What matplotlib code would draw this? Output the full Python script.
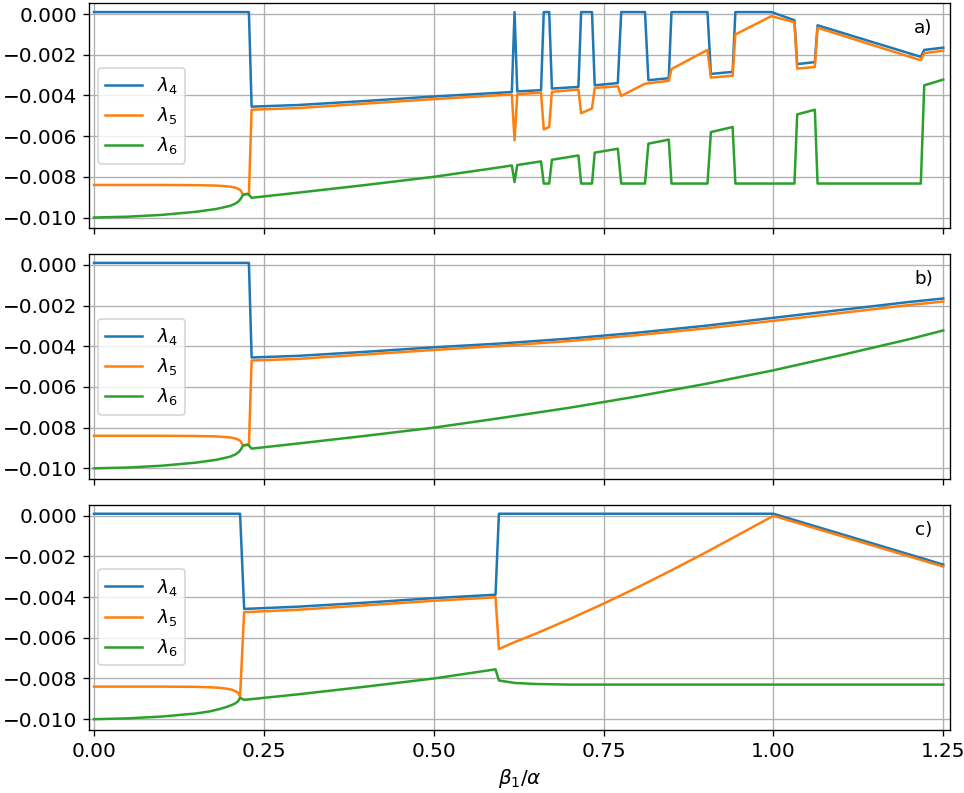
import numpy as np
import matplotlib
matplotlib.use('Agg')
import matplotlib.pyplot as plt

"""
Eigenvalues lambda_4..lambda_6 as a function of beta_1/alpha, three cases a), b), c).
Values read off the original figure.
"""

# ---- panel a) ----
x_a = [0.0, 0.05, 0.10, 0.15, 0.18, 0.20, 0.208, 0.213, 0.216, 0.219, 0.222, 0.226, 0.228, 0.232,
       0.30, 0.40, 0.50, 0.60, 0.615, 0.619, 0.623, 0.658, 0.662, 0.670, 0.674, 0.713, 0.717,
       0.733, 0.737, 0.771, 0.776, 0.811, 0.816, 0.846, 0.850, 0.903, 0.908, 0.940, 0.944,
       0.997, 1.031, 1.035, 1.061, 1.065, 1.217, 1.222, 1.25]
l4_a = [0.0001, 0.0001, 0.0001, 0.0001, 0.0001, 0.0001, 0.0001, 0.0001, 0.0001, 0.0001, 0.0001,
        0.0001, 0.0001, -0.00455,
        -0.00447, -0.00427, -0.00405, -0.00386, -0.00383, 0.0001, -0.0038, -0.00374, 0.0001,
        0.0001, -0.00366, -0.00358, 0.0001, 0.0001, -0.0035, -0.00339, 0.0001, 0.0001, -0.00325,
        -0.00315, 0.0001, 0.0001, -0.00294, -0.00284, 0.0001, 0.0001, -0.0003, -0.00246,
        -0.00236, -0.00055, -0.0021, -0.00176, -0.00165]
l5_a = [-0.0084, -0.0084, -0.0084, -0.00841, -0.00843, -0.00848, -0.00853, -0.0086, -0.00868,
        -0.00885, -0.00886, -0.00884, -0.00888, -0.0047,
        -0.00462, -0.0044, -0.00418, -0.00398, -0.00396, -0.0062, -0.00394, -0.00386, -0.00567,
        -0.00555, -0.00382, -0.00371, -0.00487, -0.00464, -0.00363, -0.00355, -0.00402, -0.00342,
        -0.0034, -0.00328, -0.0027, -0.00176, -0.00312, -0.00303, -0.001, -0.0001, -0.0004,
        -0.00268, -0.0026, -0.00067, -0.00227, -0.00192, -0.0018]
l6_a = [-0.0100, -0.00996, -0.00987, -0.00972, -0.00958, -0.00943, -0.00932, -0.0092, -0.00908,
        -0.0089, -0.00886, -0.00884, -0.00888, -0.00903,
        -0.00878, -0.0084, -0.0080, -0.00752, -0.00744, -0.00826, -0.00742, -0.00724, -0.00833,
        -0.00833, -0.00716, -0.00695, -0.00833, -0.00833, -0.00681, -0.00662, -0.00833, -0.00833,
        -0.00637, -0.00617, -0.00833, -0.00833, -0.0058, -0.00555, -0.00833, -0.00833, -0.00833,
        -0.00493, -0.0047, -0.00833, -0.00833, -0.0035, -0.00322]

# ---- panel b) ----
x_b = [0.0, 0.05, 0.10, 0.15, 0.18, 0.20, 0.208, 0.213, 0.216, 0.219, 0.222, 0.226, 0.228, 0.232,
       0.30, 0.40, 0.50, 0.60, 0.70, 0.80, 0.90, 1.00, 1.10, 1.20, 1.25]
l4_b = [0.0001, 0.0001, 0.0001, 0.0001, 0.0001, 0.0001, 0.0001, 0.0001, 0.0001, 0.0001, 0.0001,
        0.0001, 0.0001, -0.00455,
        -0.00447, -0.00427, -0.00405, -0.00386, -0.00362, -0.00333, -0.00299, -0.0026, -0.00221,
        -0.00182, -0.00165]
l5_b = [-0.0084, -0.0084, -0.0084, -0.00841, -0.00843, -0.00848, -0.00853, -0.0086, -0.00868,
        -0.00885, -0.00886, -0.00884, -0.00888, -0.0047,
        -0.00462, -0.0044, -0.00418, -0.00398, -0.00374, -0.00345, -0.00312, -0.00275, -0.00236,
        -0.00197, -0.0018]
l6_b = [-0.0100, -0.00996, -0.00987, -0.00972, -0.00958, -0.00943, -0.00932, -0.0092, -0.00908,
        -0.0089, -0.00886, -0.00884, -0.00888, -0.00903,
        -0.00878, -0.0084, -0.0080, -0.00752, -0.00702, -0.00646, -0.00585, -0.00518, -0.00443,
        -0.00365, -0.00322]

# ---- panel c) ----
x_c = [0.0, 0.05, 0.10, 0.15, 0.17, 0.185, 0.195, 0.203, 0.208, 0.212, 0.215, 0.221, 0.30, 0.40,
       0.50, 0.591, 0.596, 0.62, 0.65, 0.70, 0.75, 0.80, 0.85, 0.90, 0.95, 1.00, 1.25]
l4_c = [0.0001, 0.0001, 0.0001, 0.0001, 0.0001, 0.0001, 0.0001, 0.0001, 0.0001, 0.0001, 0.0001,
        -0.00458, -0.00447, -0.00427, -0.00405, -0.00388, 0.0001, 0.0001, 0.0001, 0.0001, 0.0001,
        0.0001, 0.0001, 0.0001, 0.0001, 0.0001, -0.0024]
l5_c = [-0.0084, -0.0084, -0.0084, -0.00841, -0.00843, -0.00846, -0.0085, -0.00855, -0.00862,
        -0.0087, -0.00888, -0.00474, -0.00462, -0.0044, -0.00418, -0.00401, -0.00655, -0.0062,
        -0.0058, -0.00508, -0.00432, -0.00352, -0.00268, -0.00181, -0.00091, 0.0, -0.0025]
l6_c = [-0.0100, -0.00996, -0.00987, -0.00972, -0.00962, -0.0095, -0.0094, -0.0093, -0.00922,
        -0.00912, -0.00895, -0.00905, -0.00878, -0.0084, -0.0080, -0.00755, -0.0081, -0.00822,
        -0.00827, -0.0083, -0.0083, -0.0083, -0.0083, -0.0083, -0.0083, -0.0083, -0.0083]

panels = [('a)', x_a, l4_a, l5_a, l6_a),
          ('b)', x_b, l4_b, l5_b, l6_b),
          ('c)', x_c, l4_c, l5_c, l6_c)]
labels = [r'$\lambda_4$', r'$\lambda_5$', r'$\lambda_6$']
xticks = [0.0, 0.25, 0.5, 0.75, 1.0, 1.25]

plt.rcParams['font.size'] = 12

fig, axes = plt.subplots(3, 1, figsize=(965 / 120, 793 / 120), dpi=120, sharex=True)
fig.subplots_adjust(left=0.0922, right=0.9845, top=0.9958, bottom=0.0795, hspace=0.115)

for ax, (tag, x, l4, l5, l6) in zip(axes, panels):
    for y, lab in zip([l4, l5, l6], labels):
        ax.plot(x, y, label=lab)
    ax.grid(True)
    ax.set_xlim(-0.0074, 1.26)
    ax.set_ylim(-0.01053, 0.00053)
    ax.set_yticks([0.0, -0.002, -0.004, -0.006, -0.008, -0.010])
    ax.set_yticklabels(['0.000', '\u22120.002', '\u22120.004', '\u22120.006', '\u22120.008', '\u22120.010'])
    ax.legend(loc='center left', fontsize=11)
    ax.text(0.98, 0.89, tag, transform=ax.transAxes, ha='right', va='center', fontsize=11)

axes[-1].set_xticks(xticks)
axes[-1].set_xticklabels(['0.00', '0.25', '0.50', '0.75', '1.00', '1.25'])
axes[-1].set_xlabel(r'$\beta_1/\alpha$')

fig.savefig('out.png', dpi=120)
